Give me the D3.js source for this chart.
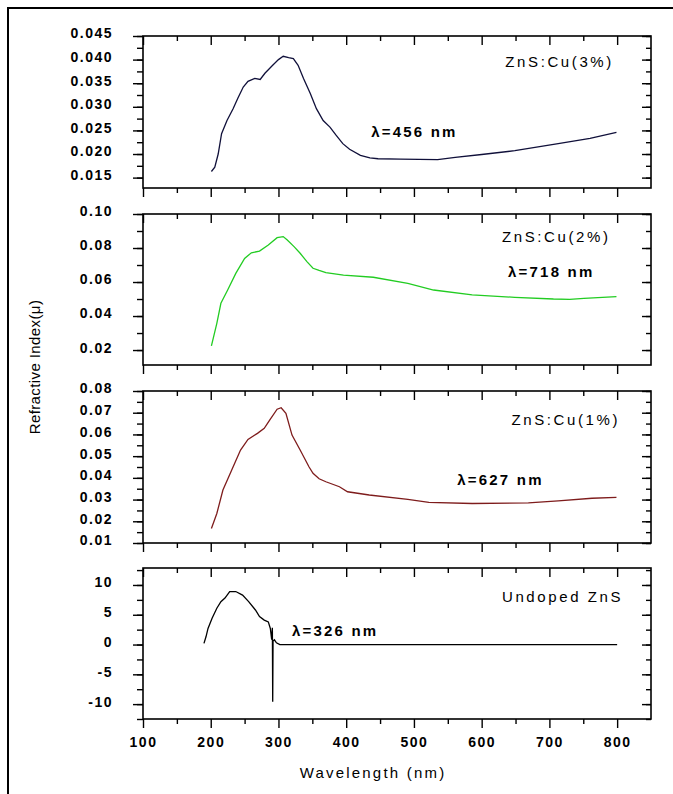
<!DOCTYPE html>
<html>
<head>
<meta charset="utf-8">
<script src="https://cdn.jsdelivr.net/npm/d3@7"></script>
<style>
  body { margin: 0; background: #fff; }
  text { font-family: "Liberation Sans", Arial, sans-serif; }
</style>
</head>
<body>
<div id="chart"></div>
<script>
// wavelength (nm) / refractive index
var wlCu3 = [201,206,211,216,224,233,240,248,255,265,273,280,290,300,307,315,322,329,337,347,356,366,376,385,395,405,421,435,447,480,535,561,600,649,713,760,799];
var muCu3 = [0.0163,0.0172,0.0200,0.0243,0.0271,0.0296,0.0318,0.0342,0.0354,0.0360,0.0358,0.0371,0.0386,0.0400,0.0407,0.0404,0.0402,0.0388,0.0360,0.0328,0.0296,0.0271,0.0257,0.0240,0.0222,0.0210,0.0197,0.0192,0.0190,0.0189,0.0188,0.0193,0.0199,0.0207,0.0222,0.0233,0.0246];

var wlCu2 = [201,209,215,225,237,250,260,272,285,298,307,313,323,332,342,351,360,370,396,440,491,529,586,649,706,730,751,799];
var muCu2 = [0.0224,0.0357,0.0475,0.0553,0.0651,0.0739,0.0772,0.0782,0.0818,0.0861,0.0867,0.0847,0.0808,0.0769,0.0720,0.0681,0.0668,0.0655,0.0641,0.0628,0.0592,0.0553,0.0524,0.0510,0.0500,0.0498,0.0504,0.0514];

var wlCu1 = [201,209,218,231,244,255,269,279,288,298,304,311,320,332,345,351,360,370,390,402,434,491,522,586,669,713,763,799];
var muCu1 = [0.0167,0.0236,0.0344,0.0436,0.0528,0.0577,0.0605,0.0628,0.0670,0.0716,0.0723,0.0697,0.0597,0.0528,0.0451,0.0421,0.0396,0.0382,0.0359,0.0336,0.0321,0.0301,0.0287,0.0282,0.0285,0.0294,0.0306,0.0310];

var wlPure = [190,193,196,202,209,215,221,228,237,247,256,266,272,279,285,288,290,291,291.5,292,294,297,302,800];
var muPure = [0.2,1.3,2.7,4.4,6.1,7.2,7.8,8.9,8.9,8.3,7.2,5.8,4.7,4.1,3.8,2.7,0.8,2.8,-9.6,0.6,0.8,0.3,0,0];

// tick labels
var xTicks = [100,200,300,400,500,600,700,800];
var yTicksCu3 = [0.015,0.020,0.025,0.030,0.035,0.040,0.045];
var yTicksCu2 = [0.02,0.04,0.06,0.08,0.10];
var yTicksCu1 = [0.01,0.02,0.03,0.04,0.05,0.06,0.07,0.08];
var yTicksPure = [-10,-5,0,5,10];

var width = 673, height = 794;

var svg = d3.select("#chart")
    .append("svg")
    .attr("width", width)
    .attr("height", height);

svg.append("rect").attr("width", width).attr("height", height).attr("fill", "#fff");

// page frame (only top and left edges are in view)
svg.append("path")
    .attr("d", "M8," + height + "V8H" + width)
    .attr("fill", "none")
    .attr("stroke", "#000")
    .attr("stroke-width", 2);

var x = d3.scaleLinear().domain([100, 850]).range([143, 651]);
var xMinor = d3.range(150, 850, 100);

var panels = [
  {wl: wlCu3, mu: muCu3, color: "#10103a", top: 36, bottom: 188, domain: [0.0128, 0.045],
   ticks: yTicksCu3, step: 0.0025, fmt: d3.format(".3f"),
   name: "ZnS:Cu(3%)", nameAt: [635, 0.0395], lam: "\u03bb=456 nm", lamAt: [437, 0.0248]},
  {wl: wlCu2, mu: muCu2, color: "#22cc22", top: 214, bottom: 365, domain: [0.0112, 0.10],
   ticks: yTicksCu2, step: 0.01, fmt: d3.format(".2f"),
   name: "ZnS:Cu(2%)", nameAt: [630, 0.0865], lam: "\u03bb=718 nm", lamAt: [639, 0.0659]},
  {wl: wlCu1, mu: muCu1, color: "#7e1c1c", top: 391, bottom: 543, domain: [0.01, 0.08],
   ticks: yTicksCu1, step: 0.005, fmt: d3.format(".2f"),
   name: "ZnS:Cu(1%)", nameAt: [644, 0.0671], lam: "\u03bb=627 nm", lamAt: [564, 0.0394]},
  {wl: wlPure, mu: muPure, color: "#000", top: 568, bottom: 719, domain: [-12.5, 12.85],
   ticks: yTicksPure, step: 2.5, fmt: function(d) { return String(d); },
   name: "Undoped ZnS", nameAt: [630, 8.0], lam: "\u03bb=326 nm", lamAt: [320, 2.4]}
];

function styleAxis(g) {
  g.select(".domain").remove();
  g.selectAll("line").attr("stroke", "#000").attr("stroke-width", 1.4);
}

panels.forEach(function(p, i) {
  var last = i === panels.length - 1;
  var y = d3.scaleLinear().domain(p.domain).range([p.bottom, p.top]);
  var yMinor = d3.range(p.ticks[0] - 3 * p.step, p.domain[1] + 1e-9, p.step)
      .filter(function(v) { return v >= p.domain[0] - 1e-9; });
  var g = svg.append("g");

  // bottom axis (ticks out)
  g.append("g").attr("transform", "translate(0," + p.bottom + ")")
      .call(d3.axisBottom(x).tickValues(xMinor).tickSize(5).tickFormat(""))
      .call(styleAxis);
  var xb = g.append("g").attr("transform", "translate(0," + p.bottom + ")")
      .call(d3.axisBottom(x).tickValues(xTicks).tickSize(9).tickPadding(9)
        .tickFormat(last ? d3.format("d") : ""))
      .call(styleAxis);
  xb.selectAll("text")
      .attr("fill", "#000")
      .style("font-size", "14px")
      .style("font-weight", "bold")
      .style("letter-spacing", "1.5px");

  // top axis (ticks in)
  g.append("g").attr("transform", "translate(0," + p.top + ")")
      .call(d3.axisBottom(x).tickValues(xMinor).tickSize(5).tickFormat(""))
      .call(styleAxis);
  g.append("g").attr("transform", "translate(0," + p.top + ")")
      .call(d3.axisBottom(x).tickValues(xTicks).tickSize(9).tickFormat(""))
      .call(styleAxis);

  // left axis (ticks out)
  g.append("g").attr("transform", "translate(" + x.range()[0] + ",0)")
      .call(d3.axisLeft(y).tickValues(yMinor).tickSize(6).tickFormat(""))
      .call(styleAxis);
  var yl = g.append("g").attr("transform", "translate(" + x.range()[0] + ",0)")
      .call(d3.axisLeft(y).tickValues(p.ticks).tickSize(10).tickPadding(20).tickFormat(p.fmt))
      .call(styleAxis);
  yl.selectAll("text")
      .attr("fill", "#000")
      .attr("dy", "0.14em")
      .style("font-size", "14px")
      .style("font-weight", "bold")
      .style("letter-spacing", "1.5px");

  // right axis (ticks in)
  g.append("g").attr("transform", "translate(" + x.range()[1] + ",0)")
      .call(d3.axisLeft(y).tickValues(yMinor).tickSize(5).tickFormat(""))
      .call(styleAxis);
  g.append("g").attr("transform", "translate(" + x.range()[1] + ",0)")
      .call(d3.axisLeft(y).tickValues(p.ticks).tickSize(9).tickFormat(""))
      .call(styleAxis);

  // frame
  g.append("rect")
      .attr("x", x.range()[0]).attr("y", p.top)
      .attr("width", x.range()[1] - x.range()[0])
      .attr("height", p.bottom - p.top)
      .attr("fill", "none")
      .attr("stroke", "#000")
      .attr("stroke-width", 1.6);

  // curve
  g.append("path")
      .datum(d3.zip(p.wl, p.mu))
      .attr("fill", "none")
      .attr("stroke", p.color)
      .attr("stroke-width", 1.3)
      .attr("d", d3.line()
        .x(function(d) { return x(d[0]); })
        .y(function(d) { return y(d[1]); }));

  // labels
  g.append("text")
      .attr("x", x(p.nameAt[0])).attr("y", y(p.nameAt[1]))
      .attr("dominant-baseline", "central")
      .style("font-size", "15px")
      .style("letter-spacing", "2.6px")
      .text(p.name);
  g.append("text")
      .attr("x", x(p.lamAt[0])).attr("y", y(p.lamAt[1]))
      .attr("dominant-baseline", "central")
      .style("font-size", "15px")
      .style("font-weight", "bold")
      .style("letter-spacing", "2.2px")
      .text(p.lam);
});

// axis titles
svg.append("text")
    .attr("x", 373).attr("y", 772)
    .attr("text-anchor", "middle")
    .attr("dominant-baseline", "central")
    .style("font-size", "15px")
    .style("letter-spacing", "2.2px")
    .text("Wavelength (nm)");

svg.append("text")
    .attr("transform", "translate(34,367) rotate(-90)")
    .attr("text-anchor", "middle")
    .attr("dominant-baseline", "central")
    .style("font-size", "15px")
    .style("letter-spacing", "0.4px")
    .text("Refractive Index(\u03bc)");
</script>
</body>
</html>
